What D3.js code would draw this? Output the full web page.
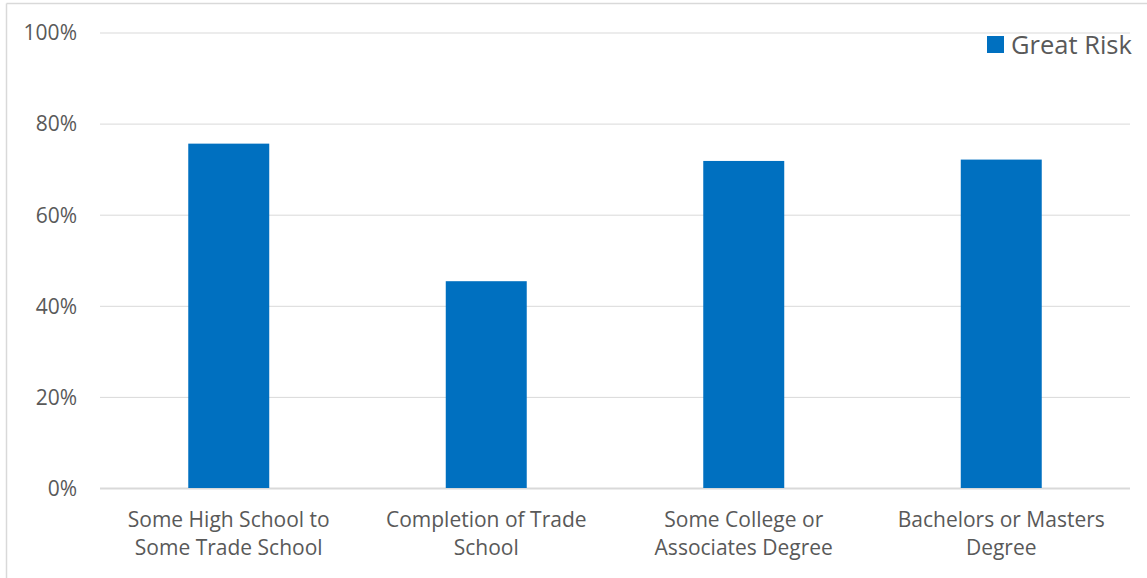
<!DOCTYPE html>
<html><head><meta charset="utf-8">
<script src="https://cdn.jsdelivr.net/npm/d3@7"></script>
<style>body{margin:0;background:#fff}svg{display:block}text{font-family:"Open Sans",sans-serif;fill:#595959}</style>
</head><body><svg id="c" width="1147" height="578"></svg>
<script>
const categories = [["Some High School to","Some Trade School"],["Completion of Trade","School"],["Some College or","Associates Degree"],["Bachelors or Masters","Degree"]];
const seriesName = "Great Risk";
const greatRisk = [0.756, 0.454, 0.718, 0.721];
const yTicks = [0, 0.2, 0.4, 0.6, 0.8, 1.0];

(function(){
const svg = d3.select("#c");
const W = 1147, H = 578;
const mLeft = 100, mRight = 1130, mTop = 32.5, mBottom = 488;

// outer frame
svg.append("line").attr("x1",6.5).attr("x2",W).attr("y1",3.5).attr("y2",3.5).attr("stroke","#d9d9d9").attr("stroke-width",1.5);
svg.append("line").attr("x1",6.5).attr("x2",6.5).attr("y1",3.5).attr("y2",H).attr("stroke","#d9d9d9").attr("stroke-width",1.5);

const x = d3.scaleBand().domain(categories.map((d,i)=>i)).range([mLeft,mRight]).paddingInner(0.6855).paddingOuter(0.6855/2);
const y = d3.scaleLinear().domain([0,1]).range([mBottom, mTop]);

const gy = svg.append("g").attr("transform",`translate(${mLeft},0)`)
  .call(d3.axisLeft(y).tickValues(yTicks).tickFormat(d3.format(".0%")).tickSize(-(mRight-mLeft)).tickPadding(23));
gy.select(".domain").remove();
gy.selectAll(".tick line").attr("stroke","#d9d9d9").attr("stroke-width",1);
gy.selectAll(".tick text").attr("font-size",21).style("fill","#595959").attr("dy","0.35em");
gy.selectAll(".tick").filter(d=>d===0).select("line").attr("stroke-width",1.8);

svg.append("g").selectAll("rect").data(greatRisk).join("rect")
  .attr("x",(d,i)=>x(i)).attr("width",x.bandwidth())
  .attr("y",d=>y(d)).attr("height",d=>y(0)-y(d)).attr("fill","#0070c0");

const gx = svg.append("g");
categories.forEach((lines,i)=>{
  const t = gx.append("text").attr("x",x(i)+x.bandwidth()/2).attr("y",527).attr("text-anchor","middle").attr("font-size",21);
  lines.forEach((l,j)=>t.append("tspan").attr("x",x(i)+x.bandwidth()/2).attr("y",527+j*28).text(l));
});

// legend
const lg = svg.append("g");
lg.append("rect").attr("x",987).attr("y",36).attr("width",17).attr("height",17).attr("fill","#0070c0");
lg.append("text").attr("x",1011).attr("y",54).attr("font-size",25.5).text(seriesName);
})();
</script></body></html>
